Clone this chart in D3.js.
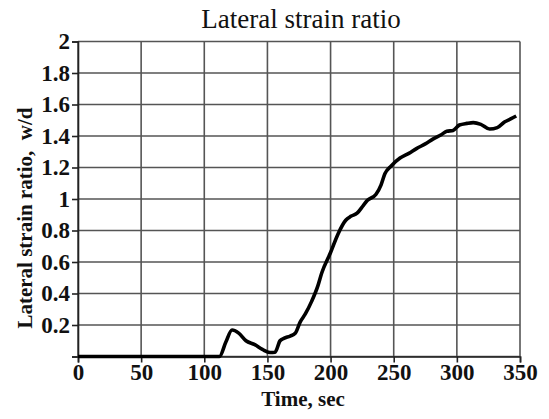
<!DOCTYPE html>
<html>
<head>
<meta charset="utf-8">
<script src="https://cdn.jsdelivr.net/npm/d3@7"></script>
<style>
  body { margin: 0; background: #fff; }
  text { font-family: "Liberation Serif", "DejaVu Serif", serif; }
</style>
</head>
<body>
<div id="chart"></div>
<script>
// values
var time = [0, 50, 100, 112, 117, 122, 127, 133, 140, 146, 152, 156, 160, 163, 168, 172, 176, 180, 185, 190, 193, 200, 206, 212, 216, 221, 226, 229, 236, 240, 243, 248, 255, 262, 268, 275, 281, 288, 292, 297, 302, 308, 313, 319, 326, 332, 338, 343, 347];
var ratio = [0, 0, 0, 0, 0.09, 0.168, 0.15, 0.10, 0.075, 0.045, 0.025, 0.027, 0.10, 0.115, 0.13, 0.147, 0.22, 0.27, 0.35, 0.45, 0.53, 0.66, 0.78, 0.865, 0.89, 0.91, 0.96, 0.99, 1.03, 1.09, 1.16, 1.21, 1.26, 1.29, 1.32, 1.35, 1.38, 1.41, 1.43, 1.435, 1.47, 1.48, 1.485, 1.474, 1.444, 1.453, 1.49, 1.51, 1.527];
var xTicks = [0, 50, 100, 150, 200, 250, 300, 350];
var yTicks = [0, 0.2, 0.4, 0.6, 0.8, 1, 1.2, 1.4, 1.6, 1.8, 2];

var W = 549, H = 419;
var margin = { left: 78, top: 41.5, right: 29, bottom: 62.5 };
var w = W - margin.left - margin.right;
var h = H - margin.top - margin.bottom;

var svg = d3.select("#chart").append("svg")
    .attr("width", W)
    .attr("height", H);

var g = svg.append("g")
    .attr("transform", "translate(" + margin.left + "," + margin.top + ")");

var x = d3.scaleLinear().domain([0, 350]).range([0, w]);
var y = d3.scaleLinear().domain([0, 2]).range([h, 0]);

// grid
g.append("g").selectAll("line")
    .data(xTicks)
    .enter().append("line")
    .attr("x1", function (d) { return x(d); })
    .attr("x2", function (d) { return x(d); })
    .attr("y1", 0).attr("y2", h)
    .attr("stroke", "#555").attr("stroke-width", 1.6);
g.append("g").selectAll("line")
    .data(yTicks)
    .enter().append("line")
    .attr("x1", 0).attr("x2", w)
    .attr("y1", function (d) { return y(d); })
    .attr("y2", function (d) { return y(d); })
    .attr("stroke", "#555").attr("stroke-width", 1.6);

// axes
var xAxis = g.append("g")
    .attr("transform", "translate(0," + h + ")")
    .call(d3.axisBottom(x).tickValues(xTicks).tickSize(6).tickPadding(1).tickFormat(d3.format("d")));
var yAxis = g.append("g")
    .call(d3.axisLeft(y).tickValues(yTicks).tickSize(6).tickPadding(2)
        .tickFormat(function (d) { return d === 0 ? "" : d3.format("~g")(d); }));

[xAxis, yAxis].forEach(function (a) {
    a.select(".domain").attr("stroke", "#222").attr("stroke-width", 1.6);
    a.selectAll(".tick line").attr("stroke", "#222").attr("stroke-width", 1.6);
    a.selectAll(".tick text")
        .style("font-family", "'Liberation Serif', serif")
        .style("font-size", "23px")
        .style("font-weight", "bold")
        .attr("fill", "#111");
});

// curve
var line = d3.line()
    .x(function (d, i) { return x(time[i]); })
    .y(function (d) { return y(d); })
    .curve(d3.curveMonotoneX);

g.append("path")
    .datum(ratio)
    .attr("d", line)
    .attr("fill", "none")
    .attr("stroke", "#000")
    .attr("stroke-width", 3.6)
    .attr("stroke-linejoin", "round");

// labels
svg.append("text")
    .attr("x", 301)
    .attr("y", 28)
    .attr("text-anchor", "middle")
    .style("font-size", "27px")
    .attr("fill", "#111")
    .text("Lateral strain ratio");

svg.append("text")
    .attr("x", 303)
    .attr("y", 406)
    .attr("text-anchor", "middle")
    .style("font-size", "21px")
    .style("font-weight", "bold")
    .attr("fill", "#111")
    .text("Time, sec");

svg.append("text")
    .attr("transform", "translate(32,218) rotate(-90)")
    .attr("text-anchor", "middle")
    .style("font-size", "21px")
    .style("font-weight", "bold")
    .style("white-space", "pre")
    .attr("fill", "#111")
    .text("Lateral strain ratio,  w/d");
</script>
</body>
</html>
